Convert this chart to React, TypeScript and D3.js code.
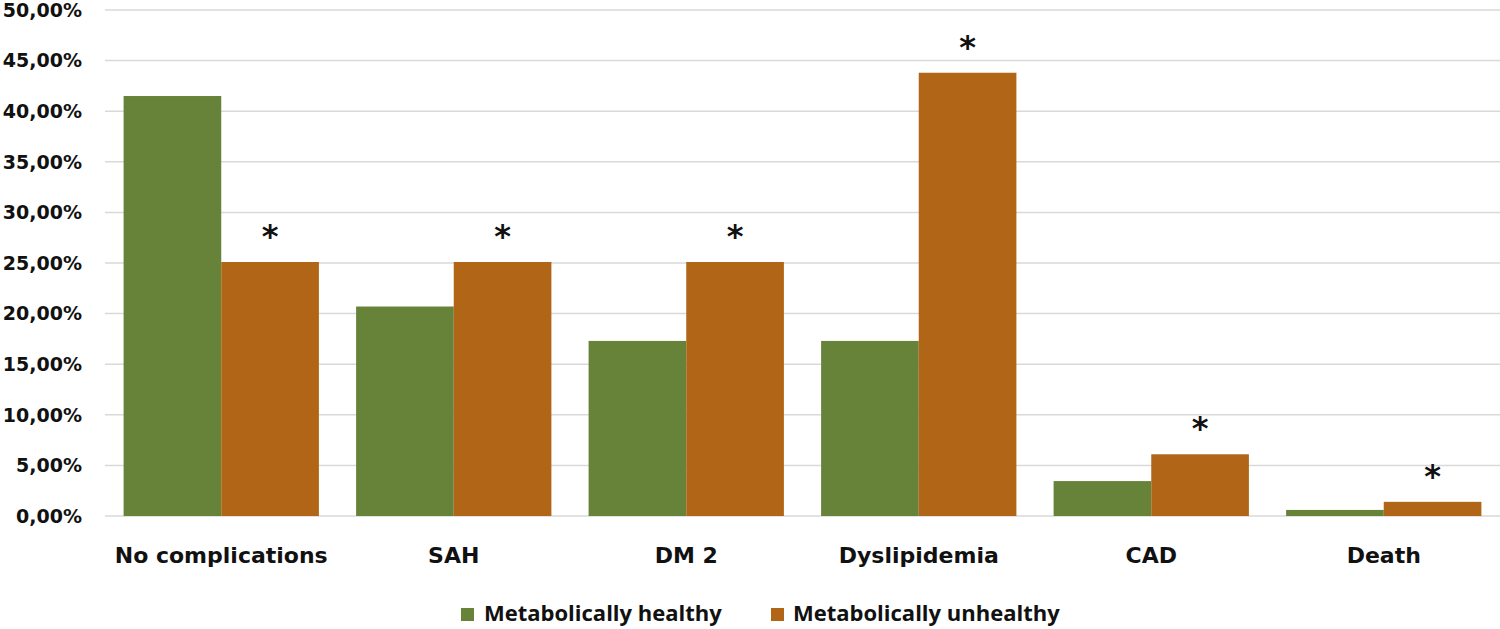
import React from "react";
import * as d3 from "d3";

const categories = ["No complications", "SAH", "DM 2", "Dyslipidemia", "CAD", "Death"];
const seriesNames = ["Metabolically healthy", "Metabolically unhealthy"];
const healthy = [41.5, 20.7, 17.3, 17.3, 3.45, 0.6];
const unhealthy = [25.1, 25.1, 25.1, 43.8, 6.1, 1.4];
const significant = [true, true, true, true, true, true];
const yTicks = [0, 5, 10, 15, 20, 25, 30, 35, 40, 45, 50];

const W = 1500;
const H = 629;
const margin = { left: 105, right: 0, top: 10, bottom: 113 };
const colors = ["#67833A", "#B06616"];

export default function App() {
  const x = d3
    .scaleBand<string>()
    .domain(categories)
    .range([margin.left, W - margin.right])
    .paddingInner(0.16)
    .paddingOuter(0.08);
  const y = d3.scaleLinear().domain([0, 50]).range([H - margin.bottom, margin.top]);
  const inner = d3.scaleBand<number>().domain([0, 1]).range([0, x.bandwidth()]);
  const series = [healthy, unhealthy];
  const fmt = (v: number) => v.toFixed(2).replace(".", ",") + "%";

  return (
    <svg width={W} height={H} style={{ position: "absolute", left: 0, top: 0, background: "#fff" }}>
      <g>
        {yTicks.map((t) => (
          <g key={t}>
            <line x1={margin.left} x2={W} y1={y(t)} y2={y(t)} stroke="#d9d9d9" strokeWidth={1.5} />
            <text
              x={82}
              y={y(t)}
              dy="0.36em"
              textAnchor="end"
              fontFamily="DejaVu Sans"
              fontWeight="bold"
              fontSize={19}
              fill="#111"
            >
              {fmt(t)}
            </text>
          </g>
        ))}
      </g>
      {categories.map((c, i) => (
        <g key={c}>
          {series.map((s, j) => (
            <rect
              key={j}
              x={(x(c) as number) + (inner(j) as number)}
              y={y(s[i])}
              width={inner.bandwidth()}
              height={y(0) - y(s[i])}
              fill={colors[j]}
            />
          ))}
          {significant[i] && (
            <text
              x={(x(c) as number) + (inner(1) as number) + inner.bandwidth() / 2}
              y={y(unhealthy[i]) - 15}
              textAnchor="middle"
              fontFamily="DejaVu Sans"
              fontWeight="bold"
              fontSize={32}
              fill="#111"
            >
              *
            </text>
          )}
          <text
            x={(x(c) as number) + x.bandwidth() / 2}
            y={563}
            textAnchor="middle"
            fontFamily="DejaVu Sans"
            fontWeight="bold"
            fontSize={22}
            fill="#111"
          >
            {c}
          </text>
        </g>
      ))}
      <g>
        <rect x={461} y={608} width={13} height={13} fill={colors[0]} />
        <text x={484} y={621} fontFamily="Open Sans" fontWeight="bold" fontSize={22} fill="#111">
          {seriesNames[0]}
        </text>
        <rect x={771} y={608} width={13} height={13} fill={colors[1]} />
        <text x={793} y={621} fontFamily="Open Sans" fontWeight="bold" fontSize={22} fill="#111">
          {seriesNames[1]}
        </text>
      </g>
    </svg>
  );
}
